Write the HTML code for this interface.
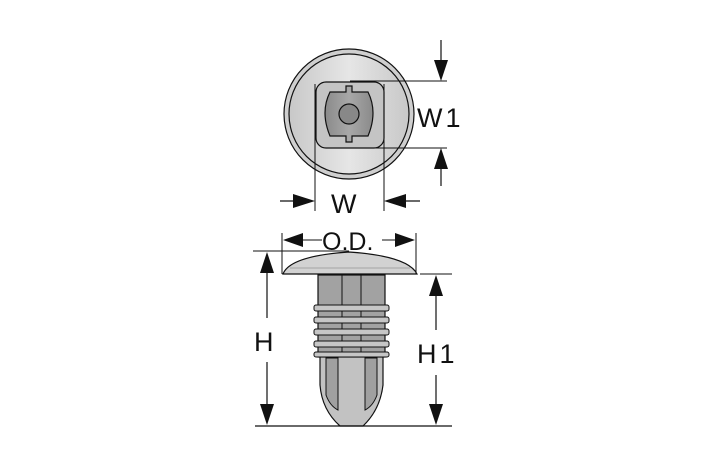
<!DOCTYPE html>
<html><head><style>
html,body{margin:0;padding:0;background:#fff;}
svg{display:block;}
text{font-family:"Liberation Sans","DejaVu Sans",sans-serif;fill:#111;}
</style></head><body>
<svg width="709" height="472" viewBox="0 0 709 472" xmlns="http://www.w3.org/2000/svg">
<defs>
<linearGradient id="g1" x1="0" x2="1"><stop offset="0" stop-color="#c8c8c8"/><stop offset="0.5" stop-color="#e6e6e6"/><stop offset="1" stop-color="#c8c8c8"/></linearGradient>
<linearGradient id="g2" x1="0" x2="1"><stop offset="0" stop-color="#8a8a8a"/><stop offset="0.5" stop-color="#a8a8a8"/><stop offset="1" stop-color="#8a8a8a"/></linearGradient>
</defs>
<g stroke="#111" stroke-width="1.2">
<circle cx="349" cy="114" r="65" fill="#cfcfcf"/>
<circle cx="349" cy="114" r="60" fill="url(#g1)"/>
<rect x="316" y="82" width="68" height="66" rx="10" fill="#c4c4c4"/>
<path d="M330 92 H346 V86 H352 V92 H368 Q378 112 368 136 H352 V142 H346 V136 H330 Q320 112 330 92Z" fill="url(#g2)"/>
<circle cx="349" cy="114" r="10" fill="#888"/>
<line x1="315" y1="84" x2="315" y2="211" stroke-width="1"/>
<line x1="384" y1="84" x2="384" y2="211" stroke-width="1"/>
<line x1="350" y1="81" x2="447" y2="81" stroke-width="1"/>
<line x1="350" y1="148" x2="447" y2="148" stroke-width="1"/>
<line x1="280" y1="201" x2="300" y2="201"/>
<line x1="400" y1="201" x2="420" y2="201"/>
<line x1="441" y1="40" x2="441" y2="62"/>
<line x1="441" y1="166" x2="441" y2="186"/>
<path d="M320 355 L383 355 L383 385 Q380 410 363 426 L340 426 Q322 410 320 385Z" fill="#c2c2c2"/>
<path d="M326 358 V395 Q330 406 338 410 V358Z M377 358 V395 Q373 406 365 410 V358Z" fill="#a0a0a0" stroke-width="1"/>
<rect x="318" y="275" width="67" height="82" fill="#a2a2a2"/>
<line x1="342" y1="275" x2="342" y2="357" stroke-width="1"/>
<line x1="361" y1="275" x2="361" y2="357" stroke-width="1"/>
<g fill="#c6c6c6" stroke-width="1">
<rect x="314" y="305" width="75" height="6" rx="2"/>
<rect x="314" y="317" width="75" height="6" rx="2"/>
<rect x="314" y="329" width="75" height="6" rx="2"/>
<rect x="314" y="341" width="75" height="6" rx="2"/>
<rect x="314" y="352" width="75" height="5" rx="2"/>
</g>
<path d="M283 274 Q290 256 349 252 Q408 256 417 274Z" fill="#d2d2d2"/>
<line x1="290" y1="268" x2="410" y2="268" stroke-width="0.6" stroke="#777"/>
<line x1="282" y1="233" x2="282" y2="274" stroke-width="1"/>
<line x1="416" y1="233" x2="416" y2="274" stroke-width="1"/>
<line x1="300" y1="240" x2="322" y2="240" stroke-width="1"/>
<line x1="382" y1="240" x2="398" y2="240" stroke-width="1"/>
<line x1="253" y1="251" x2="349" y2="251" stroke-width="1"/>
<line x1="255" y1="426" x2="452" y2="426" stroke-width="1.2"/>
<line x1="420" y1="274" x2="452" y2="274" stroke-width="1"/>
<line x1="267" y1="270" x2="267" y2="318"/>
<line x1="267" y1="362" x2="267" y2="408"/>
<line x1="436" y1="292" x2="436" y2="330"/>
<line x1="436" y1="375" x2="436" y2="408"/>
</g>
<g fill="#111">
<polygon points="315,201 293,194 293,208"/>
<polygon points="384,201 406,194 406,208"/>
<polygon points="441,81 434,60 448,60"/>
<polygon points="441,148 434,169 448,169"/>
<polygon points="283,240 303,233 303,247"/>
<polygon points="415,240 395,233 395,247"/>
<polygon points="267,252 260,273 274,273"/>
<polygon points="267,425 260,404 274,404"/>
<polygon points="436,275 429,296 443,296"/>
<polygon points="436,425 429,404 443,404"/>
</g>
<text x="331" y="213" font-size="27">W</text>
<text x="417" y="127" font-size="27" letter-spacing="3">W1</text>
<text x="322" y="250" font-size="25">O.D.</text>
<text x="254" y="351" font-size="27">H</text>
<text x="417" y="363" font-size="27" letter-spacing="3">H1</text>
</svg>
</body></html>
